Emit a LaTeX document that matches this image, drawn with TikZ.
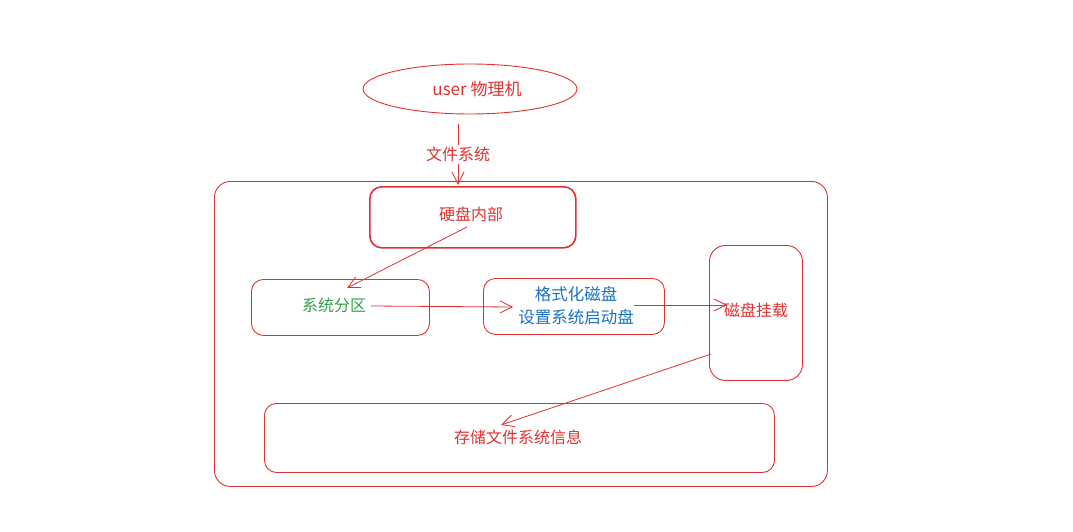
\documentclass[tikz,border=0pt]{standalone}
\usepackage{fontspec}
\setmainfont{Noto Sans CJK SC}
\usetikzlibrary{arrows.meta,shapes.geometric}
\definecolor{exred}{HTML}{E03131}
\definecolor{exgreen}{HTML}{2F9E44}
\definecolor{exblue}{HTML}{1971C2}
\tikzset{
  rbox/.style={draw=exred, line width=0.9pt, rounded corners=12pt, inner sep=0pt, anchor=north west},
  conn/.style={draw=exred, line width=0.8pt, -{Straight Barb[length=12pt,width=12pt]}},
  txt/.style={font=\fontsize{16}{23}\selectfont},
  lbl/.style={txt, text=exred}
}
\begin{document}
\begin{tikzpicture}[x=1pt,y=-1pt]
\useasboundingbox (0,0) rectangle (1073,532);
% outer container
\node[rbox, rounded corners=16pt, minimum width=613pt, minimum height=305pt] (outer) at (214,181) {};
% ellipse
\node[ellipse, draw=exred, line width=0.9pt, minimum width=214pt, minimum height=50pt] (user) at (470,89) {};
\node[text=exred, font=\fontsize{17}{20}\selectfont] (usert) at (477,89) {user 物理机};
% boxes
\node[rbox, line width=1.6pt, minimum width=206pt, minimum height=61pt] (hdd) at (369,186) {};
\node[lbl] (hddt) at (471,214) {硬盘内部};
\node[rbox, minimum width=178pt, minimum height=56pt] (part) at (251,279) {};
\node[txt, text=exgreen] (partt) at (334,305) {系统分区};
\node[rbox, minimum width=181pt, minimum height=56pt] (fmt) at (483,278) {};
\node[txt, text=exblue, align=center, font=\fontsize{16.5}{23}\selectfont] (fmtt) at (576,306) {格式化磁盘\\设置系统启动盘};
\node[rbox, rounded corners=16pt, minimum width=93pt, minimum height=135pt] (mnt) at (709,245) {};
\node[lbl] (mntt) at (756,310) {磁盘挂载};
\node[rbox, minimum width=510pt, minimum height=69pt] (store) at (264,403) {};
\node[lbl] (storet) at (518,437) {存储文件系统信息};
% connector endpoints
\coordinate (a1s) at (467,227);
\coordinate (a1e) at (347,288);
\coordinate (a2s) at (371,306);
\coordinate (a2e) at (513,307);
\coordinate (a3s) at (634,305);
\coordinate (a3e) at (727,305);
\coordinate (a4s) at (711,354);
\coordinate (a4e) at (501,425);
\coordinate (a0s) at (458,124);
\coordinate (a0e) at (458,185);
% connectors
\draw[conn] (a0s) -- node[lbl, fill=white, inner sep=2pt] (fs) {文件系统} (a0e);
\draw[conn] (a1s) -- (a1e);
\draw[conn] (a2s) -- (a2e);
\draw[conn] (a3s) -- (a3e);
\draw[conn] (a4s) -- (a4e);
\end{tikzpicture}
\end{document}
